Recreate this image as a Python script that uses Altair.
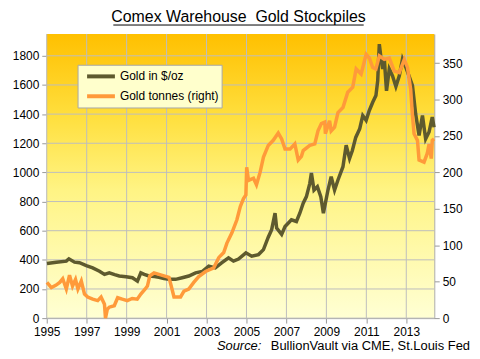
import altair as alt
import pandas as pd

# ---- data ----
gold_years = [1995.01, 1995.48, 1995.98, 1996.11, 1996.39, 1996.64, 1996.98, 1997.30, 1997.64, 1997.89,
              1998.13, 1998.40, 1998.63, 1998.97, 1999.29, 1999.54, 1999.71, 1999.88, 2000.12, 2000.40,
              2000.62, 2000.87, 2001.12, 2001.45, 2001.78, 2002.11, 2002.45, 2002.78, 2003.11, 2003.44,
              2003.77, 2004.10, 2004.35, 2004.60, 2004.97, 2005.26, 2005.60, 2005.85, 2006.09, 2006.26,
              2006.43, 2006.51, 2006.76, 2006.93, 2007.25, 2007.50, 2007.67, 2007.84, 2008.00, 2008.17,
              2008.25, 2008.38, 2008.55, 2008.72, 2008.85, 2009.08, 2009.24, 2009.41, 2009.58, 2009.83,
              2009.99, 2010.16, 2010.30, 2010.47, 2010.67, 2010.82, 2010.99, 2011.15, 2011.32, 2011.48,
              2011.57, 2011.65, 2011.72, 2011.82, 2011.90, 2012.01, 2012.15, 2012.31, 2012.48, 2012.65,
              2012.81, 2012.98, 2013.14, 2013.31, 2013.47, 2013.64, 2013.81, 2013.97, 2014.14, 2014.30,
              2014.39]
gold_price = [375, 384, 391, 407, 384, 380, 361, 345, 322, 300,
              311, 298, 289, 284, 277, 254, 311, 300, 289, 285,
              280, 272, 266, 266, 277, 289, 311, 320, 357, 345,
              380, 414, 391, 405, 448, 425, 436, 470, 555, 607,
              720, 618, 575, 629, 675, 663, 720, 789, 834, 925,
              995, 879, 902, 834, 720, 879, 970, 879, 948, 1039,
              1186, 1095, 1150, 1240, 1300, 1390, 1357, 1425, 1481, 1527,
              1630, 1880, 1800, 1709, 1777, 1560, 1709, 1663, 1590, 1663,
              1777, 1720, 1660, 1595, 1400, 1254, 1391, 1230, 1277, 1379,
              1310]

tonne_years = [1995.01, 1995.23, 1995.45, 1995.65, 1995.80, 1995.98, 1996.14, 1996.29, 1996.44, 1996.56,
               1996.73, 1996.89, 1997.05, 1997.30, 1997.55, 1997.72, 1997.89, 1997.94, 1998.03, 1998.13,
               1998.38, 1998.55, 1998.78, 1999.03, 1999.28, 1999.53, 1999.71, 1999.93, 2000.04, 2000.16,
               2000.37, 2000.62, 2000.87, 2001.12, 2001.27, 2001.37, 2001.70, 2001.87, 2002.11, 2002.36,
               2002.61, 2002.95, 2003.36, 2003.61, 2003.86, 2004.02, 2004.27, 2004.52, 2004.69, 2004.85,
               2004.97, 2005.01, 2005.10, 2005.35, 2005.50, 2005.68, 2005.85, 2006.09, 2006.34, 2006.59,
               2006.76, 2006.93, 2007.18, 2007.42, 2007.59, 2007.75, 2007.84, 2008.17, 2008.42, 2008.58,
               2008.75, 2008.92, 2008.95, 2009.16, 2009.24, 2009.41, 2009.58, 2009.83, 2010.07, 2010.32,
               2010.49, 2010.74, 2010.99, 2011.15, 2011.32, 2011.48, 2011.65, 2011.90, 2012.15, 2012.40,
               2012.65, 2012.90, 2013.06, 2013.22, 2013.31, 2013.39, 2013.56, 2013.64, 2013.89, 2014.05,
               2014.14, 2014.25, 2014.30, 2014.39]
tonnes = [49, 42, 45, 49, 54, 40, 59, 44, 53, 40,
          51, 33, 29, 26, 24, 29, 19, 0, 12, 15,
          17, 28, 26, 24, 27, 26, 33, 40, 44, 58,
          62, 60, 58, 56, 40, 29, 29, 37, 40, 49,
          57, 64, 69, 83, 90, 103, 117, 135, 153, 164,
          169, 207, 189, 192, 183, 200, 221, 237, 244, 254,
          246, 232, 232, 239, 217, 222, 230, 237, 239, 257,
          267, 269, 253, 271, 257, 262, 282, 289, 310, 317,
          342, 335, 362, 357, 344, 342, 360, 355, 357, 339,
          337, 355, 344, 314, 278, 253, 244, 217, 214, 226,
          239, 219, 244, 246]

series_names = ["Gold in $/oz", "Gold tonnes (right)"]
series_colors = ["#5E5A2E", "#FF9A3A"]
x_ticks = [1995, 1997, 1999, 2001, 2003, 2005, 2007, 2009, 2011, 2013]
left_ticks = list(range(0, 1801, 200))
right_ticks = list(range(0, 351, 50))

gold_df = pd.DataFrame({"year": gold_years, "value": gold_price, "series": series_names[0]})
tonne_df = pd.DataFrame({"year": tonne_years, "value": tonnes, "series": series_names[1]})
xgrid_df = pd.DataFrame({"year": x_ticks})
ygrid_df = pd.DataFrame({"value": left_ticks})

W, H = 390, 286
FONT = "Liberation Sans"
GRID = "#BDBDBD"

xscale = alt.Scale(domain=[1995, 2014.4], nice=False, zero=False)
left_scale = alt.Scale(domain=[0, 1950], nice=False)

color = alt.Color("series:N",
                  scale=alt.Scale(domain=series_names, range=series_colors),
                  legend=alt.Legend(title=None, orient="none", legendX=31, legendY=31,
                                    fillColor="#FFFFCC", strokeColor="#A8A8A8", padding=2.7,
                                    symbolType="M-0.3,0H3.7", symbolSize=196, symbolStrokeWidth=4,
                                    labelOffset=22, rowPadding=3, labelFontSize=12, labelFont=FONT,
                                    labelColor="#000000", labelLimit=300))

xenc = alt.X("year:Q", scale=xscale,
             axis=alt.Axis(values=x_ticks, format="d", title=None, grid=False,
                           labelFlush=False, labelOverlap=False))

bg = alt.Chart(alt.Data(values=[{}])).mark_rect(
    fill=alt.LinearGradient(gradient="linear", x1=0, x2=0, y1=0, y2=1,
                            stops=[alt.GradientStop(offset=0, color="#FFC000"),
                                   alt.GradientStop(offset=0.3, color="#FFE040"),
                                   alt.GradientStop(offset=0.55, color="#FFF484"),
                                   alt.GradientStop(offset=1, color="#FFFFD4")])
).encode(x=alt.value(0), x2=alt.value(W), y=alt.value(0), y2=alt.value(H))

vgrid = alt.Chart(xgrid_df).mark_rule(color=GRID, strokeWidth=1).encode(x=xenc)
hgrid = alt.Chart(ygrid_df).mark_rule(color=GRID, strokeWidth=1).encode(
    y=alt.Y("value:Q", scale=left_scale, axis=None))

gold = alt.Chart(gold_df).mark_line(strokeWidth=3.5).encode(
    x=xenc,
    y=alt.Y("value:Q", scale=left_scale,
            axis=alt.Axis(values=left_ticks, format="d", title=None, grid=False, orient="left")),
    color=color,
)

tonne = alt.Chart(tonne_df).mark_line(strokeWidth=3.5).encode(
    x=xenc,
    y=alt.Y("value:Q", scale=alt.Scale(domain=[0, 390], nice=False),
            axis=alt.Axis(values=right_ticks, format="d", title=None, grid=False, orient="right")),
    color=color,
)

title = alt.Chart(alt.Data(values=[{"t": "Comex Warehouse\u00a0 Gold Stockpiles"}])).mark_text(
    align="center", baseline="alphabetic", font=FONT, fontSize=16, color="#000000"
).encode(text="t:N", x=alt.value(193), y=alt.value(-12))

underline = alt.Chart(alt.Data(values=[{}])).mark_rule(color="#000000", strokeWidth=1).encode(
    x=alt.value(67), x2=alt.value(319), y=alt.value(-9))

src_it = alt.Chart(alt.Data(values=[{"t": "Source:"}])).mark_text(
    align="right", baseline="alphabetic", font=FONT, fontSize=13, fontStyle="italic", color="#000000"
).encode(text="t:N", x=alt.value(216), y=alt.value(318))

src = alt.Chart(alt.Data(values=[{"t": "BullionVault via CME, St.Louis Fed"}])).mark_text(
    align="right", baseline="alphabetic", font=FONT, fontSize=13, color="#000000"
).encode(text="t:N", x=alt.value(426), y=alt.value(318))

chart = alt.layer(bg, vgrid, hgrid, gold, tonne, title, underline, src_it, src).resolve_scale(
    y="independent"
).properties(
    width=W, height=H,
    autosize=alt.AutoSizeParams(type="none"),
    padding={"left": 39, "top": 25, "right": 38, "bottom": 38},
).configure_view(strokeWidth=0).configure_axis(
    labelFont=FONT, labelFontSize=12, labelColor="#000000",
    domainColor="#999999", tickColor="#999999", tickSize=5, labelPadding=3,
)

chart.save("out.html", embed_options={"renderer": "svg", "actions": False})
